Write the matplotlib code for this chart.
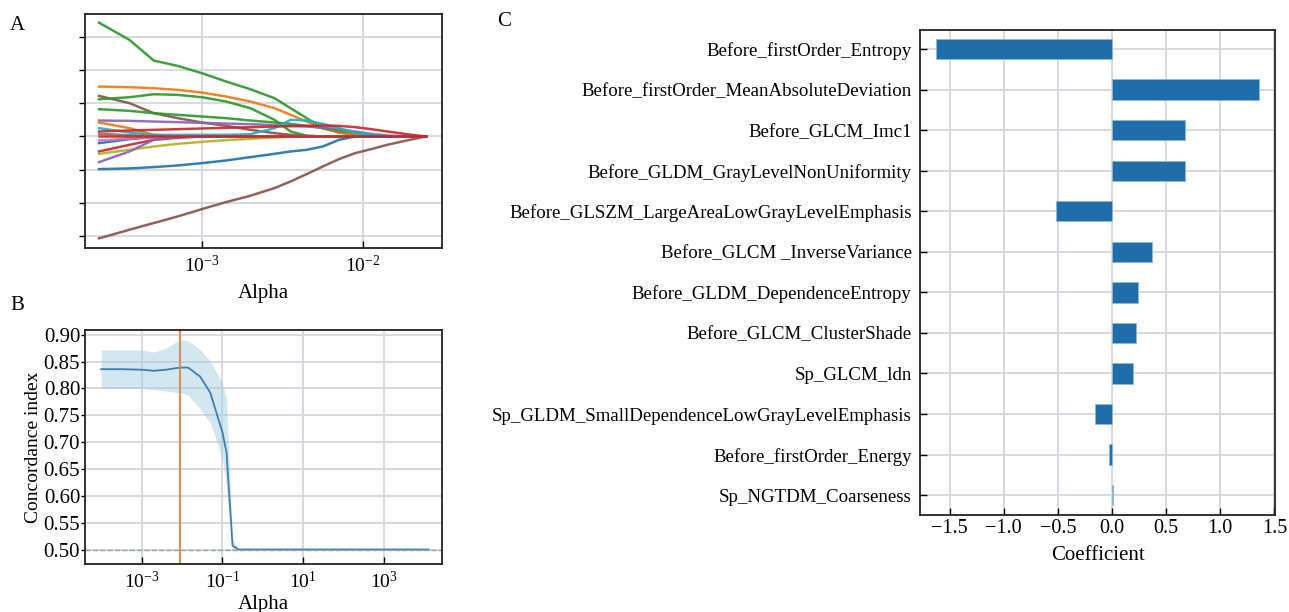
import numpy as np
import matplotlib
matplotlib.use('Agg')
import matplotlib.pyplot as plt

plt.rcParams['font.family'] = ['Liberation Serif', 'DejaVu Serif']
plt.rcParams['mathtext.fontset'] = 'custom'
plt.rcParams['mathtext.rm'] = 'Liberation Serif'
plt.rcParams['mathtext.it'] = 'Liberation Serif:italic'
plt.rcParams['axes.unicode_minus'] = True

# ---- panel A: lasso paths (log10 alpha knots, coefficient per feature)
path_log_alpha = [-3.64, -3.45, -3.30, -3.15, -3.00, -2.85, -2.70, -2.55, -2.45,
                  -2.35, -2.25, -2.15, -2.05, -1.95, -1.85, -1.73, -1.61]
path_green_top = [3.42, 2.90, 2.28, 2.12, 1.90, 1.65, 1.42, 1.15, 0.85, 0.55, 0.25, 0.12, 0.05, 0.02, 0, 0, 0]
path_orange = [1.50, 1.48, 1.45, 1.40, 1.32, 1.20, 1.05, 0.85, 0.65, 0.45, 0.25, 0.12, 0.05, 0.02, 0, 0, 0]
path_brown_up = [1.22, 1.00, 0.70, 0.55, 0.42, 0.32, 0.20, 0.10, 0.05, 0.02, 0, 0, 0, 0, 0, 0, 0]
path_green_mid = [1.12, 1.18, 1.27, 1.25, 1.18, 1.05, 0.85, 0.50, 0.15, 0.02, 0, 0, 0, 0, 0, 0, 0]
path_green_low = [0.82, 0.77, 0.70, 0.65, 0.60, 0.55, 0.48, 0.42, 0.38, 0.32, 0.25, 0.18, 0.12, 0.05, 0, 0, 0]
path_purple = [0.48, 0.47, 0.45, 0.43, 0.41, 0.39, 0.37, 0.34, 0.32, 0.30, 0.27, 0.22, 0.15, 0.08, 0.03, 0, 0]
path_orange2 = [0.42, 0.25, 0.05, 0, 0, 0, 0, 0, 0, 0, 0, 0, 0, 0, 0, 0, 0]
path_cyan = [0.25, 0.12, 0.05, 0.05, 0.05, 0.05, 0.07, 0.25, 0.50, 0.48, 0.38, 0.25, 0.12, 0.05, 0, 0, 0]
path_red_up = [0.15, 0.18, 0.20, 0.22, 0.24, 0.26, 0.28, 0.30, 0.31, 0.32, 0.33, 0.32, 0.28, 0.22, 0.15, 0.07, 0]
path_gray = [0.08, 0.04, 0.01, 0, 0, 0, 0, 0, 0, 0, 0, 0, 0, 0, 0, 0, 0]
path_blue_up = [-0.20, -0.08, -0.02, 0, 0, 0, 0, 0, 0, 0, 0, 0, 0, 0, 0, 0, 0]
path_pink = [-0.12, -0.06, -0.02, 0, 0, 0, 0, 0, 0, 0, 0, 0, 0, 0, 0, 0, 0]
path_red_low = [-0.45, -0.25, -0.10, -0.04, 0, 0, 0, 0, 0, 0, 0, 0, 0, 0, 0, 0, 0]
path_olive = [-0.52, -0.40, -0.30, -0.22, -0.16, -0.11, -0.07, -0.03, -0.01, 0, 0, 0, 0, 0, 0, 0, 0]
path_purple_low = [-0.77, -0.45, -0.10, -0.02, 0, 0, 0, 0, 0, 0, 0, 0, 0, 0, 0, 0, 0]
path_blue_low = [-0.98, -0.96, -0.92, -0.87, -0.80, -0.72, -0.62, -0.52, -0.45, -0.40, -0.30, -0.10, 0, 0, 0, 0, 0]
path_brown_low = [-3.06, -2.80, -2.60, -2.40, -2.18, -1.97, -1.78, -1.55, -1.35, -1.13, -0.90, -0.68, -0.50, -0.38, -0.25, -0.12, 0]
path_red_main = [0, 0, 0, 0, 0, 0, 0, 0, 0, 0, 0, 0, 0, 0, 0, 0, 0]

# ---- panel B: cross-validated concordance index
cv_log_alpha = [-4.0, -3.5, -3.0, -2.7, -2.4, -2.05, -1.85, -1.55, -1.3, -1.0, -0.9, -0.75, -0.6, 4.1]
cv_mean = [0.836, 0.836, 0.835, 0.833, 0.835, 0.839, 0.839, 0.822, 0.792, 0.718, 0.681, 0.507, 0.500, 0.500]
cv_upper = [0.872, 0.872, 0.872, 0.868, 0.875, 0.891, 0.889, 0.872, 0.851, 0.810, 0.780, 0.520, 0.500, 0.500]
cv_lower = [0.800, 0.800, 0.800, 0.798, 0.795, 0.792, 0.788, 0.761, 0.736, 0.668, 0.620, 0.500, 0.500, 0.500]
best_alpha = 0.009

# ---- panel C: coefficients
features = ['Before_firstOrder_Entropy', 'Before_firstOrder_MeanAbsoluteDeviation',
            'Before_GLCM_Imc1', 'Before_GLDM_GrayLevelNonUniformity',
            'Before_GLSZM_LargeAreaLowGrayLevelEmphasis', 'Before_GLCM _InverseVariance',
            'Before_GLDM_DependenceEntropy', 'Before_GLCM_ClusterShade', 'Sp_GLCM_ldn',
            'Sp_GLDM_SmallDependenceLowGrayLevelEmphasis', 'Before_firstOrder_Energy',
            'Sp_NGTDM_Coarseness']
coefs = [-1.63, 1.36, 0.67, 0.67, -0.516, 0.369, 0.237, 0.221, 0.197, -0.154, -0.03, 0.005]

grid_c = '#d3d8de'
fig = plt.figure(figsize=(12.89, 6.12), dpi=100)

# A
axA = fig.add_axes([85/1289, 1-248/612, 357/1289, 234/612])
xs = 10 ** np.array(path_log_alpha)
paths = [(path_green_top, 'tab:green'), (path_orange, 'tab:orange'), (path_brown_up, 'tab:brown'),
         (path_green_mid, 'tab:green'), (path_green_low, 'tab:green'), (path_purple, 'tab:purple'),
         (path_orange2, 'tab:orange'), (path_cyan, 'tab:cyan'), (path_gray, 'tab:gray'),
         (path_blue_up, 'tab:blue'), (path_pink, 'tab:pink'), (path_red_low, 'tab:red'),
         (path_olive, 'tab:olive'), (path_purple_low, 'tab:purple'), (path_blue_low, 'tab:blue'),
         (path_brown_low, 'tab:brown'), (path_red_up, 'tab:red'), (path_red_main, 'tab:red')]
for ys, c in paths:
    axA.plot(xs, ys, color=c, lw=1.8, alpha=0.9)
    axA.plot(xs, ys, color='#333333', lw=1.0, ls=(0, (0.6, 1.4)), alpha=0.35)
axA.set_xscale('log')
axA.set_xlim(10**-3.727, 10**-1.51)
axA.set_ylim(-3.35, 3.68)
axA.set_yticks([-3, -2, -1, 0, 1, 2, 3])
axA.set_yticklabels([])
axA.set_xticks([1e-3, 1e-2])
axA.xaxis.set_minor_locator(matplotlib.ticker.NullLocator())
axA.set_xlabel('Alpha', fontsize=15, labelpad=6)

# B
axB = fig.add_axes([85/1289, 1-564/612, 357/1289, 234/612])
xb = 10 ** np.array(cv_log_alpha)
axB.fill_between(xb, cv_lower, cv_upper, color='#9ecae1', alpha=0.45, lw=0)
axB.plot(xb, cv_mean, color='#3a7fb0', lw=1.3)
axB.axvline(best_alpha, color='#d6924a', lw=1.5)
axB.axhline(0.5, color='#9aa3ad', lw=1.0, ls='--')
axB.set_xscale('log')
axB.set_xlim(10**-4.40, 10**4.43)
axB.set_ylim(0.473, 0.909)
axB.set_xticks([1e-3, 1e-1, 1e1, 1e3])
axB.xaxis.set_minor_locator(matplotlib.ticker.NullLocator())
axB.set_yticks(np.arange(0.50, 0.901, 0.05))
axB.set_yticklabels(['%.2f' % v for v in np.arange(0.50, 0.901, 0.05)])
axB.set_xlabel('Alpha', fontsize=15, labelpad=2)
axB.set_ylabel('Concordance index', fontsize=14, labelpad=1)

# C
axC = fig.add_axes([920/1289, 1-515/612, 355/1289, 485/612])
pos = np.arange(len(features))
axC.barh(pos, coefs, height=0.5, color='#1f6eaa', edgecolor='#8fb8d8', lw=0.6, zorder=3)
axC.set_yticks(pos)
axC.set_yticklabels(features, fontsize=13.6)
axC.set_ylim(11.49, -0.47)
axC.set_xlim(-1.774, 1.506)
axC.set_xticks([-1.5, -1.0, -0.5, 0.0, 0.5, 1.0, 1.5])
axC.set_xlabel('Coefficient', fontsize=15, labelpad=6)

for ax in (axA, axB, axC):
    ax.grid(True, color=grid_c, lw=1.3, zorder=0)
    ax.set_axisbelow(True)
    for s in ax.spines.values():
        s.set_linewidth(1.3)
        s.set_color('#222222')
    ax.tick_params(axis='x', direction='in', length=5, width=1, labelsize=14, pad=5)
axA.tick_params(axis='y', direction='out', length=4, width=1)
axB.tick_params(axis='y', direction='out', length=3, width=1, labelsize=15, pad=0.5)
axC.tick_params(axis='y', direction='in', length=5, width=1, pad=6)
axC.tick_params(axis='x', labelsize=14.5, pad=3)

fig.text(10/1289, 1-25/612, 'A', fontsize=15, va='center', ha='left')
fig.text(10/1289, 1-305/612, 'B', fontsize=15, va='center', ha='left')
fig.text(497/1289, 1-22/612, 'C', fontsize=15, va='center', ha='left')

fig.savefig('out.png', dpi=100)
